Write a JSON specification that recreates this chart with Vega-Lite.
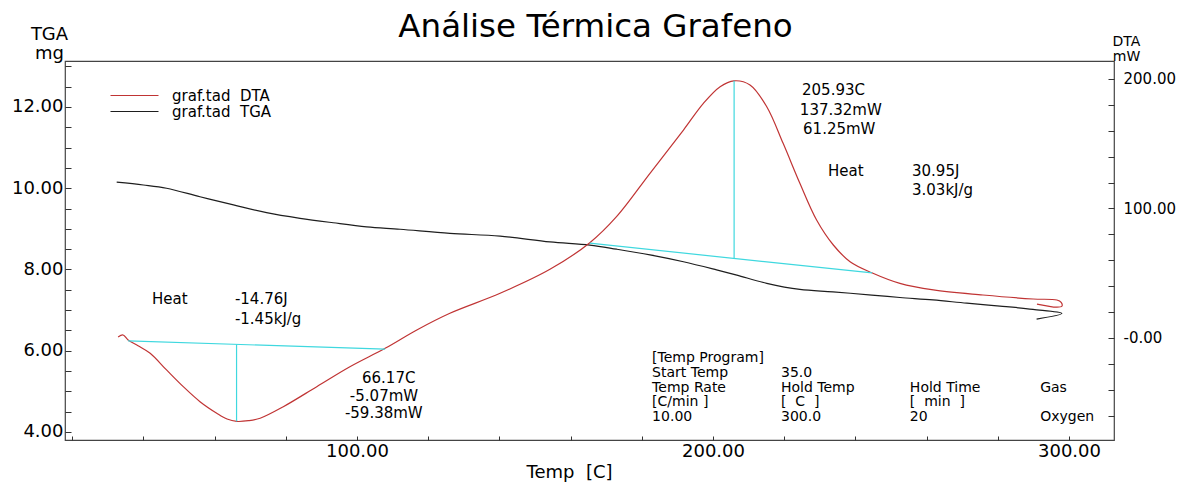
{
  "$schema": "https://vega.github.io/schema/vega-lite/v6.json",
  "width": 1049,
  "height": 379,
  "autosize": {"type": "none"},
  "padding": {"left": 65, "top": 61, "right": 74, "bottom": 43},
  "background": "white",
  "title": {"text": "Análise Térmica Grafeno", "font": "DejaVu Sans", "fontSize": 32.5, "fontWeight": "normal", "color": "black", "anchor": "middle", "frame": "group", "dx": 6, "offset": -18},
  "config": {
    "view": {"stroke": "#444", "strokeWidth": 1.2},
    "axis": {"grid": false, "domain": false, "tickColor": "#333", "tickWidth": 1, "labelColor": "black", "titleColor": "black", "labelFont": "DejaVu Sans", "titleFont": "DejaVu Sans", "titleFontWeight": "normal", "labelOverlap": false, "labelFlush": false},
    "legend": {"labelFont": "DejaVu Sans", "labelFontSize": 15, "labelColor": "black"}
  },
  "datasets": {
    "dta": [
      {"s": "graf.tad\u00a0 DTA", "t": 32.9, "d": 0.8}, {"s": "graf.tad\u00a0 DTA", "t": 34.3, "d": 2.3}, {"s": "graf.tad\u00a0 DTA", "t": 35.7, "d": -1.5}, {"s": "graf.tad\u00a0 DTA", "t": 38.5, "d": -6.0},
      {"s": "graf.tad\u00a0 DTA", "t": 41.9, "d": -11.8}, {"s": "graf.tad\u00a0 DTA", "t": 46.5, "d": -24.7}, {"s": "graf.tad\u00a0 DTA", "t": 51.2, "d": -37.6}, {"s": "graf.tad\u00a0 DTA", "t": 55.9, "d": -49.2},
      {"s": "graf.tad\u00a0 DTA", "t": 60.6, "d": -58.1}, {"s": "graf.tad\u00a0 DTA", "t": 63.5, "d": -62.6}, {"s": "graf.tad\u00a0 DTA", "t": 66.2, "d": -64.45}, {"s": "graf.tad\u00a0 DTA", "t": 69.5, "d": -63.9},
      {"s": "graf.tad\u00a0 DTA", "t": 72.8, "d": -62.0}, {"s": "graf.tad\u00a0 DTA", "t": 79.3, "d": -53.1}, {"s": "graf.tad\u00a0 DTA", "t": 88.7, "d": -37.6}, {"s": "graf.tad\u00a0 DTA", "t": 98.0, "d": -22.2},
      {"s": "graf.tad\u00a0 DTA", "t": 107.9, "d": -8.0}, {"s": "graf.tad\u00a0 DTA", "t": 116.8, "d": 6.2}, {"s": "graf.tad\u00a0 DTA", "t": 126.1, "d": 19.1}, {"s": "graf.tad\u00a0 DTA", "t": 140.2, "d": 34.5},
      {"s": "graf.tad\u00a0 DTA", "t": 154.2, "d": 53.0}, {"s": "graf.tad\u00a0 DTA", "t": 165.4, "d": 73.6}, {"s": "graf.tad\u00a0 DTA", "t": 172.9, "d": 93.7}, {"s": "graf.tad\u00a0 DTA", "t": 182.3, "d": 127.2},
      {"s": "graf.tad\u00a0 DTA", "t": 191.7, "d": 160.6}, {"s": "graf.tad\u00a0 DTA", "t": 197.3, "d": 181.2}, {"s": "graf.tad\u00a0 DTA", "t": 202.0, "d": 194.1}, {"s": "graf.tad\u00a0 DTA", "t": 205.9, "d": 198.6},
      {"s": "graf.tad\u00a0 DTA", "t": 210.4, "d": 195.4}, {"s": "graf.tad\u00a0 DTA", "t": 215.1, "d": 178.6}, {"s": "graf.tad\u00a0 DTA", "t": 219.7, "d": 150.3}, {"s": "graf.tad\u00a0 DTA", "t": 224.4, "d": 119.5},
      {"s": "graf.tad\u00a0 DTA", "t": 229.1, "d": 91.1}, {"s": "graf.tad\u00a0 DTA", "t": 233.8, "d": 71.8}, {"s": "graf.tad\u00a0 DTA", "t": 238.5, "d": 58.9}, {"s": "graf.tad\u00a0 DTA", "t": 244.6, "d": 50.4},
      {"s": "graf.tad\u00a0 DTA", "t": 252.5, "d": 42.2}, {"s": "graf.tad\u00a0 DTA", "t": 261.9, "d": 37.1}, {"s": "graf.tad\u00a0 DTA", "t": 275.8, "d": 33.2}, {"s": "graf.tad\u00a0 DTA", "t": 289.9, "d": 30.1},
      {"s": "graf.tad\u00a0 DTA", "t": 296.6, "d": 29.3}, {"s": "graf.tad\u00a0 DTA", "t": 297.8, "d": 27.5}, {"s": "graf.tad\u00a0 DTA", "t": 298.0, "d": 24.5}, {"s": "graf.tad\u00a0 DTA", "t": 296.5, "d": 23.8},
      {"s": "graf.tad\u00a0 DTA", "t": 291.0, "d": 26.2}
    ],
    "tga": [
      {"s": "graf.tad\u00a0 TGA", "t": 32.5, "m": 10.15}, {"s": "graf.tad\u00a0 TGA", "t": 40.0, "m": 10.08}, {"s": "graf.tad\u00a0 TGA", "t": 46.5, "m": 10.0}, {"s": "graf.tad\u00a0 TGA", "t": 55.9, "m": 9.79},
      {"s": "graf.tad\u00a0 TGA", "t": 65.3, "m": 9.59}, {"s": "graf.tad\u00a0 TGA", "t": 74.6, "m": 9.40}, {"s": "graf.tad\u00a0 TGA", "t": 84.0, "m": 9.26}, {"s": "graf.tad\u00a0 TGA", "t": 93.3, "m": 9.15},
      {"s": "graf.tad\u00a0 TGA", "t": 102.7, "m": 9.05}, {"s": "graf.tad\u00a0 TGA", "t": 112.1, "m": 8.99}, {"s": "graf.tad\u00a0 TGA", "t": 126.1, "m": 8.89}, {"s": "graf.tad\u00a0 TGA", "t": 140.2, "m": 8.82},
      {"s": "graf.tad\u00a0 TGA", "t": 154.2, "m": 8.68}, {"s": "graf.tad\u00a0 TGA", "t": 165.4, "m": 8.60}, {"s": "graf.tad\u00a0 TGA", "t": 172.9, "m": 8.50}, {"s": "graf.tad\u00a0 TGA", "t": 182.3, "m": 8.36},
      {"s": "graf.tad\u00a0 TGA", "t": 191.7, "m": 8.19}, {"s": "graf.tad\u00a0 TGA", "t": 201.0, "m": 7.99}, {"s": "graf.tad\u00a0 TGA", "t": 206.7, "m": 7.86}, {"s": "graf.tad\u00a0 TGA", "t": 215.1, "m": 7.66},
      {"s": "graf.tad\u00a0 TGA", "t": 224.4, "m": 7.51}, {"s": "graf.tad\u00a0 TGA", "t": 233.7, "m": 7.45}, {"s": "graf.tad\u00a0 TGA", "t": 244.6, "m": 7.37}, {"s": "graf.tad\u00a0 TGA", "t": 252.5, "m": 7.31},
      {"s": "graf.tad\u00a0 TGA", "t": 261.8, "m": 7.25}, {"s": "graf.tad\u00a0 TGA", "t": 271.3, "m": 7.17}, {"s": "graf.tad\u00a0 TGA", "t": 280.6, "m": 7.10}, {"s": "graf.tad\u00a0 TGA", "t": 289.9, "m": 7.02},
      {"s": "graf.tad\u00a0 TGA", "t": 298.0, "m": 6.92}, {"s": "graf.tad\u00a0 TGA", "t": 290.9, "m": 6.78}
    ],
    "cyan": [
      {"t1": 35.7, "d1": -2.3, "t2": 107.9, "d2": -8.6},
      {"t1": 66.17, "d1": -4.96, "t2": 66.17, "d2": -64.45},
      {"t1": 165.4, "d1": 73.2, "t2": 244.7, "d2": 50.2},
      {"t1": 205.93, "d1": 61.4, "t2": 205.93, "d2": 198.57}
    ],
    "notes": [
      {"t": 225.0, "d": 188.0, "label": "205.93C"},
      {"t": 224.4, "d": 172.2, "label": "137.32mW"},
      {"t": 225.3, "d": 157.5, "label": "61.25mW"},
      {"t": 232.3, "d": 125.1, "label": "Heat"},
      {"t": 255.9, "d": 124.7, "label": "30.95J"},
      {"t": 255.9, "d": 110.4, "label": "3.03kJ/g"},
      {"t": 42.4, "d": 26.3, "label": "Heat"},
      {"t": 65.7, "d": 26.3, "label": "-14.76J"},
      {"t": 65.7, "d": 10.6, "label": "-1.45kJ/g"},
      {"t": 101.4, "d": -35.0, "label": "66.17C"},
      {"t": 98.0, "d": -48.4, "label": "-5.07mW"},
      {"t": 96.6, "d": -62.0, "label": "-59.38mW"}
    ],
    "program": [
      {"t": 182.9, "d": -18.5, "label": "[Temp Program]"},
      {"t": 182.9, "d": -30.1, "label": "Start Temp"},
      {"t": 219.1, "d": -30.1, "label": "35.0"},
      {"t": 182.9, "d": -41.7, "label": "Temp Rate"},
      {"t": 219.1, "d": -41.7, "label": "Hold Temp"},
      {"t": 255.3, "d": -41.7, "label": "Hold Time"},
      {"t": 291.9, "d": -41.7, "label": "Gas"},
      {"t": 182.9, "d": -52.9, "label": "[C/min ]"},
      {"t": 219.1, "d": -52.9, "label": "[\u00a0 C\u00a0 ]"},
      {"t": 255.3, "d": -52.9, "label": "[\u00a0 min\u00a0 ]"},
      {"t": 182.9, "d": -64.1, "label": "10.00"},
      {"t": 219.1, "d": -64.1, "label": "300.0"},
      {"t": 255.3, "d": -64.1, "label": "20"},
      {"t": 291.9, "d": -64.1, "label": "Oxygen"}
    ]
  },
  "layer": [
    {
      "data": {"name": "tga"},
      "mark": {"type": "line", "strokeWidth": 1.2, "interpolate": "catmull-rom"},
      "encoding": {
        "x": {"field": "t", "type": "quantitative", "scale": {"domain": [17.98, 312.64], "nice": false, "zero": false},
          "axis": {"orient": "bottom", "values": [20,40,60,80,100,120,140,160,180,200,220,240,260,280,300],
            "labelExpr": "datum.value % 100 === 0 ? format(datum.value, '.2f') : ''",
            "labelOverlap": false,
            "tickSize": -4, "labelPadding": 6, "labelFontSize": 18,
            "title": "Temp\u00a0 [C]", "titleFontSize": 18, "titleX": 504, "titleY": 37, "titleAlign": "center", "titleBaseline": "alphabetic"}},
        "y": {"field": "m", "type": "quantitative", "scale": {"domain": [3.803, 13.132], "nice": false, "zero": false},
          "axis": {"orient": "left", "values": [4,4.5,5,5.5,6,6.5,7,7.5,8,8.5,9,9.5,10,10.5,11,11.5,12,12.5,13],
            "labelExpr": "datum.value % 2 === 0 ? format(datum.value, '.2f') : ''",
            "labelOverlap": false,
            "tickSize": -6, "labelPadding": 8, "labelFontSize": 18,
            "title": ["TGA", "mg"], "titleAngle": 0, "titleAlign": "center", "titleBaseline": "alphabetic",
            "titleX": -16, "titleY": -22, "titleFontSize": 18, "titleLineHeight": 19}},
        "color": {"field": "s", "type": "nominal",
          "scale": {"domain": ["graf.tad\u00a0 DTA", "graf.tad\u00a0 TGA"], "range": ["#c03434", "#1e1e1e"]},
          "legend": {"orient": "none", "legendX": 62, "legendY": 27, "title": null, "padding": 0, "rowPadding": 0,
            "symbolType": "M-8,0H8", "symbolSize": 36, "symbolStrokeWidth": 1.2, "labelOffset": 30}},
        "order": {"value": null}
      }
    },
    {
      "layer": [
        {
          "data": {"name": "dta"},
          "mark": {"type": "line", "strokeWidth": 1.2, "interpolate": "catmull-rom"},
          "encoding": {
            "x": {"field": "t", "type": "quantitative", "scale": {"domain": [17.98, 312.64], "nice": false, "zero": false}},
            "y": {"field": "d", "type": "quantitative", "scale": {"domain": [-78.8, 213.9], "nice": false, "zero": false},
              "axis": {"orient": "right", "values": [0, 100, 200],
                "labelExpr": "datum.value === 0 ? '-0.00' : format(datum.value, '.2f')",
                "labelOverlap": false,
                "tickSize": -6, "labelPadding": 15, "labelFontSize": 15,
                "title": ["DTA", "mW"], "titleAngle": 0, "titleAlign": "center", "titleBaseline": "alphabetic",
                "titleX": 12, "titleY": -16, "titleFontSize": 14, "titleLineHeight": 15}},
            "color": {"field": "s", "type": "nominal"},
            "order": {"value": null}
          }
        },
        {
          "data": {"name": "notes"},
          "mark": {"type": "text", "align": "left", "baseline": "alphabetic", "font": "DejaVu Sans", "fontSize": 15, "color": "black"},
          "encoding": {
            "x": {"field": "t", "type": "quantitative", "scale": {"domain": [17.98, 312.64], "nice": false, "zero": false}},
            "y": {"field": "d", "type": "quantitative", "scale": {"domain": [-78.8, 213.9], "nice": false, "zero": false}},
            "text": {"field": "label"}
          }
        },
        {
          "data": {"name": "program"},
          "mark": {"type": "text", "align": "left", "baseline": "alphabetic", "font": "DejaVu Sans", "fontSize": 14, "color": "black"},
          "encoding": {
            "x": {"field": "t", "type": "quantitative", "scale": {"domain": [17.98, 312.64], "nice": false, "zero": false}},
            "y": {"field": "d", "type": "quantitative", "scale": {"domain": [-78.8, 213.9], "nice": false, "zero": false}},
            "text": {"field": "label"}
          }
        }
      ]
    },
    {
      "data": {"name": "cyan"},
      "mark": {"type": "rule", "strokeWidth": 1.2, "color": "#3fd8df"},
      "encoding": {
        "x": {"field": "t1", "type": "quantitative", "scale": {"domain": [17.98, 312.64], "nice": false, "zero": false}},
        "x2": {"field": "t2"},
        "y": {"field": "d1", "type": "quantitative", "scale": {"domain": [-78.8, 213.9], "nice": false, "zero": false},
          "axis": {"orient": "right", "values": [-60,-40,-20,20,40,60,80,120,140,160,180],
            "labels": false, "tickSize": -6, "title": null, "offset": 0}},
        "y2": {"field": "d2"}
      }
    }
  ],
  "resolve": {"scale": {"y": "independent"}}
}
